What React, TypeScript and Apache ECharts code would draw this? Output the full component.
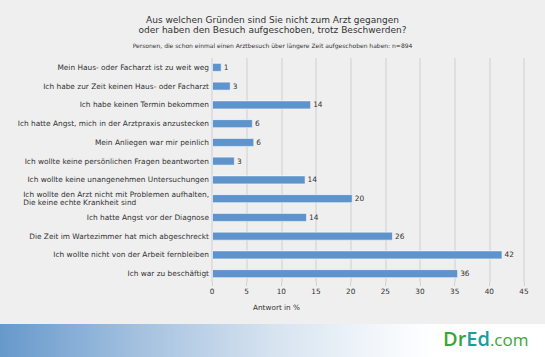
import React, { useEffect, useRef } from "react";
import * as echarts from "echarts";

const categories: string[] = [
  "Mein Haus- oder Facharzt ist zu weit weg",
  "Ich habe zur Zeit keinen Haus- oder Facharzt",
  "Ich habe keinen Termin bekommen",
  "Ich hatte Angst, mich in der Arztpraxis anzustecken",
  "Mein Anliegen war mir peinlich",
  "Ich wollte keine persönlichen Fragen beantworten",
  "Ich wollte keine unangenehmen Untersuchungen",
  "Ich wollte den Arzt nicht mit Problemen aufhalten,\nDie keine echte Krankheit sind",
  "Ich hatte Angst vor der Diagnose",
  "Die Zeit im Wartezimmer hat mich abgeschreckt",
  "Ich wollte nicht von der Arbeit fernbleiben",
  "Ich war zu beschäftigt",
];

const values: number[] = [1.4, 2.7, 14.3, 5.9, 6.1, 3.3, 13.5, 20.3, 13.7, 26.1, 41.9, 35.5];

const titleLines: string[] = [
  "Aus welchen Gründen sind Sie nicht zum Arzt gegangen",
  "oder haben den Besuch aufgeschoben, trotz Beschwerden?",
];
const subtitle = "Personen, die schon einmal einen Arztbesuch über längere Zeit aufgeschoben haben: n=894";
const axisName = "Antwort in %";

const FONT = "DejaVu Sans";

export default function App() {
  const ref = useRef<HTMLDivElement>(null);
  useEffect(() => {
    document.body.style.margin = "0";
    if (!ref.current) return;
    const chart = echarts.init(ref.current, null, { renderer: "svg" });
    chart.setOption({
      animation: false,
      backgroundColor: "#efefef",
      textStyle: { fontFamily: FONT },
      title: {
        text: titleLines.join("\n"),
        subtext: subtitle,
        left: "center",
        top: 10,
        itemGap: 7,
        textStyle: { fontSize: 9, fontWeight: "normal", color: "#333", lineHeight: 10, fontFamily: FONT },
        subtextStyle: { fontSize: 6, color: "#333", fontFamily: FONT },
      },
      grid: { left: 212, right: 21, top: 58, bottom: 74 },
      xAxis: {
        type: "value",
        min: 0,
        max: 45,
        interval: 5,
        axisLine: { show: false },
        axisTick: { show: true, length: 3, lineStyle: { color: "#d0d0d0" } },
        axisLabel: { fontSize: 7.3, color: "#333", margin: 5, fontFamily: FONT },
        splitLine: { show: true, lineStyle: { color: "#dadada", width: 1.5 } },
      },
      yAxis: {
        type: "category",
        data: categories,
        inverse: true,
        axisLine: { show: false },
        axisTick: { show: false },
        axisLabel: {
          fontSize: 7.4,
          color: "#333",
          margin: 3,
          fontFamily: FONT,
          lineHeight: 8,
          formatter: (v: string) =>
            v.indexOf("\n") >= 0
              ? v.split("\n").map((l) => "{m|" + l + "}").join("\n")
              : v,
          rich: { m: { align: "left", fontSize: 7.4, color: "#333", lineHeight: 8, fontFamily: FONT } },
        },
      },
      series: [
        {
          type: "bar",
          data: values,
          barWidth: 9,
          itemStyle: { color: "#5f93cc", borderColor: "rgba(255,255,255,0.55)", borderWidth: 1 },
          label: {
            show: true,
            position: "right",
            distance: 2,
            fontSize: 7.4,
            color: "#333",
            fontFamily: FONT,
            formatter: (p: any) => String(Math.round(p.value)),
          },
        },
      ],
      graphic: [
        {
          type: "text",
          left: 253,
          top: 304,
          style: { text: axisName, fontSize: 7.3, fill: "#333", fontFamily: FONT },
        },
        {
          type: "rect",
          shape: { x: 0, y: 324, width: 545, height: 33 },
          style: {
            fill: new echarts.graphic.LinearGradient(0, 0, 1, 0, [
              { offset: 0, color: "#6699cc" },
              { offset: 0.25, color: "#a3c0df" },
              { offset: 0.5, color: "#d6e3f0" },
              { offset: 0.72, color: "#f6f9fc" },
              { offset: 0.8, color: "#ffffff" },
              { offset: 1, color: "#ffffff" },
            ]),
          },
          z: 0,
        },
        {
          type: "text",
          x: 443,
          y: 328,
          style: {
            text: "{g|Dr}{t|Ed}{c|.com}",
            rich: {
              g: { fontSize: 20, fill: "#3aa63a", fontFamily: "Open Sans", fontWeight: 600 },
              t: { fontSize: 20, fill: "#1a9ca0", fontFamily: "Open Sans", fontWeight: 600 },
              c: { fontSize: 17, fill: "#3aa63a", fontFamily: "Open Sans", fontWeight: 500, verticalAlign: "bottom" },
            },
          },
          z: 1,
        },
      ],
    });
    return () => chart.dispose();
  }, []);
  return <div ref={ref} style={{ width: 545, height: 357 }} />;
}
